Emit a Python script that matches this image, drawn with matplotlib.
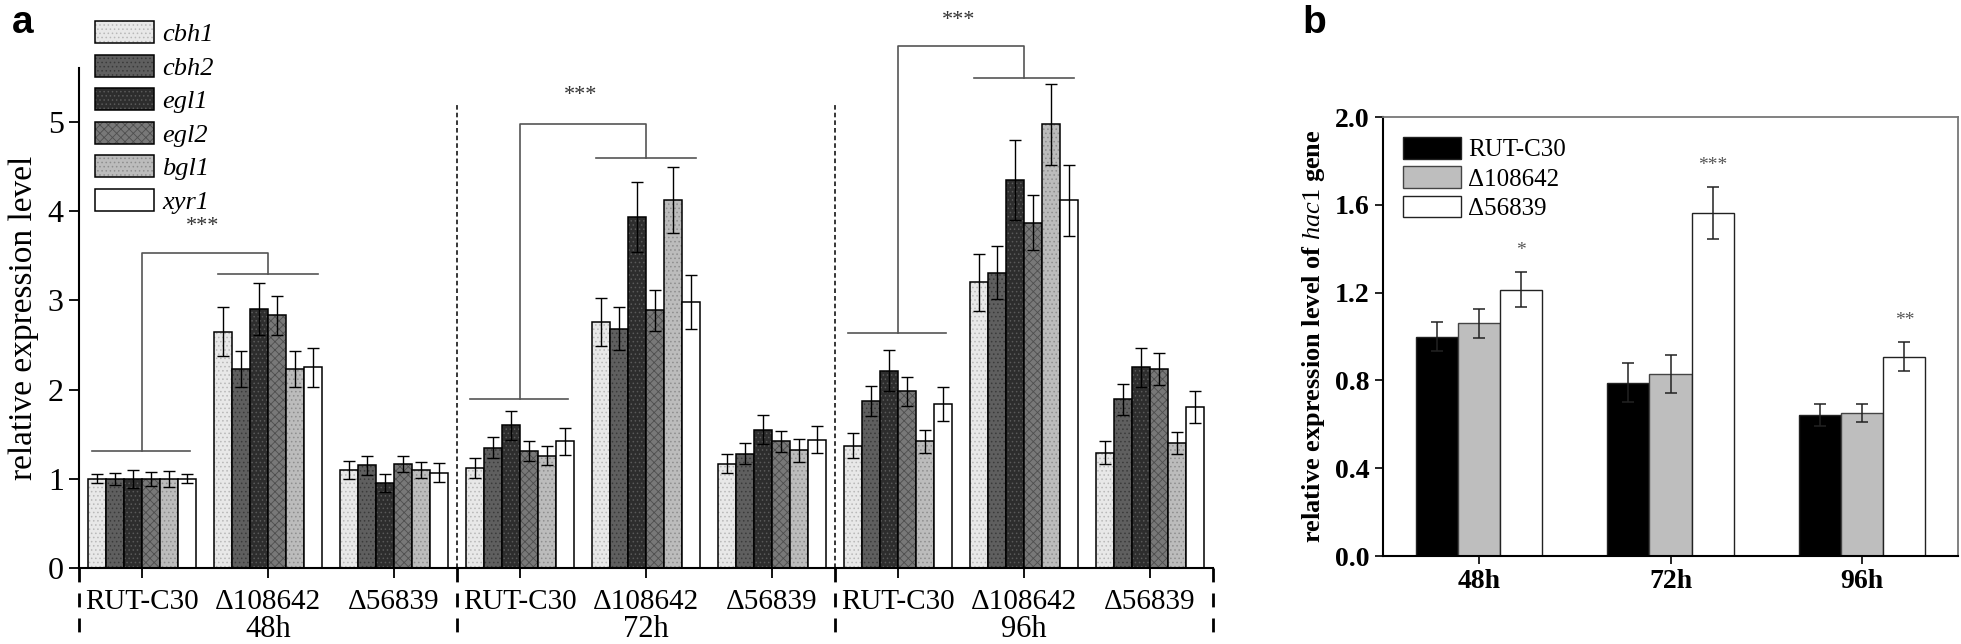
import matplotlib
matplotlib.use('Agg')
import matplotlib.pyplot as plt
import numpy as np

plt.rcParams['font.family'] = ['Liberation Serif', 'DejaVu Serif']
plt.rcParams['mathtext.fontset'] = 'custom'
plt.rcParams['mathtext.rm'] = 'Liberation Serif'
plt.rcParams['mathtext.it'] = 'Liberation Serif:italic'
plt.rcParams['mathtext.bf'] = 'Liberation Serif:bold'
plt.rcParams['hatch.linewidth'] = 0.6
plt.rcParams['axes.linewidth'] = 1.5

# panel a data
strains = ['RUT-C30', 'Δ108642', 'Δ56839']
times = ['48h', '72h', '96h']
genes = ['cbh1', 'cbh2', 'egl1', 'egl2', 'bgl1', 'xyr1']

# order: 48h (RUT, d108642, d56839), 72h (...), 96h (...)
cbh1 = [1.00, 2.65, 1.10, 1.12, 2.76, 1.17, 1.37, 3.20, 1.29]
cbh2 = [1.00, 2.23, 1.15, 1.35, 2.68, 1.28, 1.87, 3.31, 1.89]
egl1 = [1.00, 2.90, 0.95, 1.60, 3.93, 1.55, 2.21, 4.35, 2.25]
egl2 = [1.00, 2.83, 1.17, 1.31, 2.89, 1.42, 1.98, 3.87, 2.23]
bgl1 = [1.00, 2.23, 1.10, 1.26, 4.12, 1.32, 1.42, 4.97, 1.40]
xyr1 = [1.00, 2.25, 1.07, 1.42, 2.98, 1.44, 1.84, 4.12, 1.80]

cbh1_err = [0.05, 0.27, 0.10, 0.11, 0.27, 0.11, 0.14, 0.32, 0.13]
cbh2_err = [0.07, 0.20, 0.11, 0.12, 0.24, 0.12, 0.17, 0.30, 0.17]
egl1_err = [0.10, 0.29, 0.10, 0.16, 0.39, 0.16, 0.23, 0.45, 0.22]
egl2_err = [0.08, 0.22, 0.09, 0.11, 0.23, 0.12, 0.16, 0.31, 0.18]
bgl1_err = [0.09, 0.20, 0.09, 0.11, 0.37, 0.13, 0.13, 0.45, 0.12]
xyr1_err = [0.05, 0.22, 0.11, 0.15, 0.30, 0.15, 0.19, 0.40, 0.18]

# significance brackets (one per time point)
bracket_low = [1.31, 1.89, 2.63]
bracket_top = [3.53, 4.97, 5.85]
bracket_high = [3.30, 4.59, 5.49]
bracket_star = [3.83, 5.29, 6.14]

# panel b data
hac1_rut = [1.00, 0.79, 0.643]
hac1_rut_err = [0.066, 0.09, 0.05]
hac1_108642 = [1.06, 0.828, 0.651]
hac1_108642_err = [0.067, 0.086, 0.04]
hac1_56839 = [1.214, 1.563, 0.908]
hac1_56839_err = [0.08, 0.117, 0.067]
stars_b = ['*', '***', '**']

vals = [cbh1, cbh2, egl1, egl2, bgl1, xyr1]
errs = [cbh1_err, cbh2_err, egl1_err, egl2_err, bgl1_err, xyr1_err]
faces = ['#e8e8e8', '#5f5f5f', '#2d2d2d', '#787878', '#bcbcbc', '#ffffff']
hcols = ['#b8b8b8', '#3a3a3a', '#5a5a5a', '#4e4e4e', '#8e8e8e', '#ffffff']
hatches = ['....', '....', '....', 'xxxx', '....', None]

fig = plt.figure(figsize=(19.61, 6.44), dpi=100)
ax = fig.add_axes([0.0403, 0.118, 0.5783, 0.776])

n = len(cbh1)
idx = np.arange(n)
w = 0.142
handles = []
for i, g in enumerate(genes):
    x = idx + (i - 2.5) * w
    h1 = ax.bar(x, vals[i], w, color=faces[i], hatch=hatches[i],
                edgecolor=hcols[i], linewidth=0)
    h2 = ax.bar(x, vals[i], w, fill=False, edgecolor='black', linewidth=1.1,
                yerr=errs[i], capsize=4,
                error_kw=dict(elinewidth=1, capthick=1, ecolor='black'))
    handles.append((h1[0], h2[0]))

ax.set_xlim(-0.5, n - 0.5)
ax.set_ylim(0, 5.6)
ax.set_yticks([0, 1, 2, 3, 4, 5])
ax.set_xticks(idx)
ax.set_xticklabels(strains * 3)
ax.tick_params(axis='both', direction='out', length=7, width=1.3, labelsize=21)
ax.tick_params(axis='y', labelsize=23, pad=4)
ax.tick_params(axis='x', pad=8)
ax.spines['top'].set_visible(False)
ax.spines['right'].set_visible(False)
ax.set_ylabel('relative expression level', fontsize=24, labelpad=6)

# group separators
for k in range(1, 3):
    ax.plot([3 * k - 0.5, 3 * k - 0.5], [0, 5.2], color='black', lw=1.1,
            ls=(0, (3, 2)), clip_on=False)
for k in range(4):
    ax.plot([3 * k - 0.5, 3 * k - 0.5], [0, -0.75], color='black', lw=2,
            ls=(0, (5, 4)), clip_on=False)

for k, t in enumerate(times):
    ax.text(3 * k + 1, -0.69, t, ha='center', va='center', fontsize=22)

# brackets
bc = '#555555'
for k in range(3):
    a, b = 3 * k, 3 * k + 1
    ax.plot([a - 0.4, a + 0.38], [bracket_low[k]] * 2, color=bc, lw=1.2, clip_on=False)
    ax.plot([a, a, b, b], [bracket_low[k], bracket_top[k], bracket_top[k], bracket_high[k]],
            color=bc, lw=1.2, clip_on=False)
    ax.plot([b - 0.4, b + 0.4], [bracket_high[k]] * 2, color=bc, lw=1.2, clip_on=False)
    ax.text(a + 0.48, bracket_star[k], '***', ha='center', va='center',
            fontsize=16, color='#333333', clip_on=False)

fig.legend(handles, genes, loc='upper left', bbox_to_anchor=(0.0485, 0.967),
           bbox_transform=fig.transFigure, frameon=False,
           prop={'style': 'italic', 'size': 19},
           handlelength=2.25, handleheight=0.9, labelspacing=0.32,
           handletextpad=0.3, borderaxespad=0, borderpad=0)

fig.text(0.006, 0.965, 'a', fontsize=28, fontweight='bold',
         family='Liberation Sans', va='center')

# panel b
bx = fig.add_axes([0.7053, 0.1366, 0.2932, 0.6817])
xb = np.arange(len(times))
wb = 0.22
b1 = bx.bar(xb - wb, hac1_rut, wb, color='black', edgecolor='#222222', linewidth=1,
            yerr=hac1_rut_err, capsize=4,
            error_kw=dict(elinewidth=1.1, capthick=1.1, ecolor='#222222'))
b2 = bx.bar(xb, hac1_108642, wb, color='#bebebe', edgecolor='#444444', linewidth=1,
            yerr=hac1_108642_err, capsize=4,
            error_kw=dict(elinewidth=1.1, capthick=1.1, ecolor='#222222'))
b3 = bx.bar(xb + wb, hac1_56839, wb, color='white', edgecolor='#222222', linewidth=1,
            yerr=hac1_56839_err, capsize=4,
            error_kw=dict(elinewidth=1.1, capthick=1.1, ecolor='#222222'))
for i, s in enumerate(stars_b):
    bx.text(xb[i] + wb, hac1_56839[i] + hac1_56839_err[i] + 0.1, s,
            ha='center', va='center', fontsize=14, color='#555555')

bx.set_xlim(-0.5, 2.5)
bx.set_ylim(0, 2.0)
bx.set_yticks(np.arange(0, 2.01, 0.4))
bx.set_yticklabels(['%.1f' % v for v in np.arange(0, 2.01, 0.4)])
bx.set_xticks(xb)
bx.set_xticklabels(times)
bx.tick_params(axis='both', direction='out', length=6, width=1.2, labelsize=20)
for lab in bx.get_xticklabels() + bx.get_yticklabels():
    lab.set_fontweight('bold')
for sp in ['top', 'right']:
    bx.spines[sp].set_color('#777777')
    bx.spines[sp].set_linewidth(1.3)
bx.set_ylabel(r'relative expression level of $\mathit{hac1}$ gene',
              fontsize=19, fontweight='bold', labelpad=6)
bx.legend([b1, b2, b3], strains, loc='upper left', frameon=False, fontsize=18,
          handlelength=2.3, handleheight=0.95, labelspacing=0.2,
          handletextpad=0.3, borderaxespad=0.5, borderpad=0.3)

fig.text(0.664, 0.965, 'b', fontsize=28, fontweight='bold',
         family='Liberation Sans', va='center')

fig.savefig('out.png', dpi=100)
